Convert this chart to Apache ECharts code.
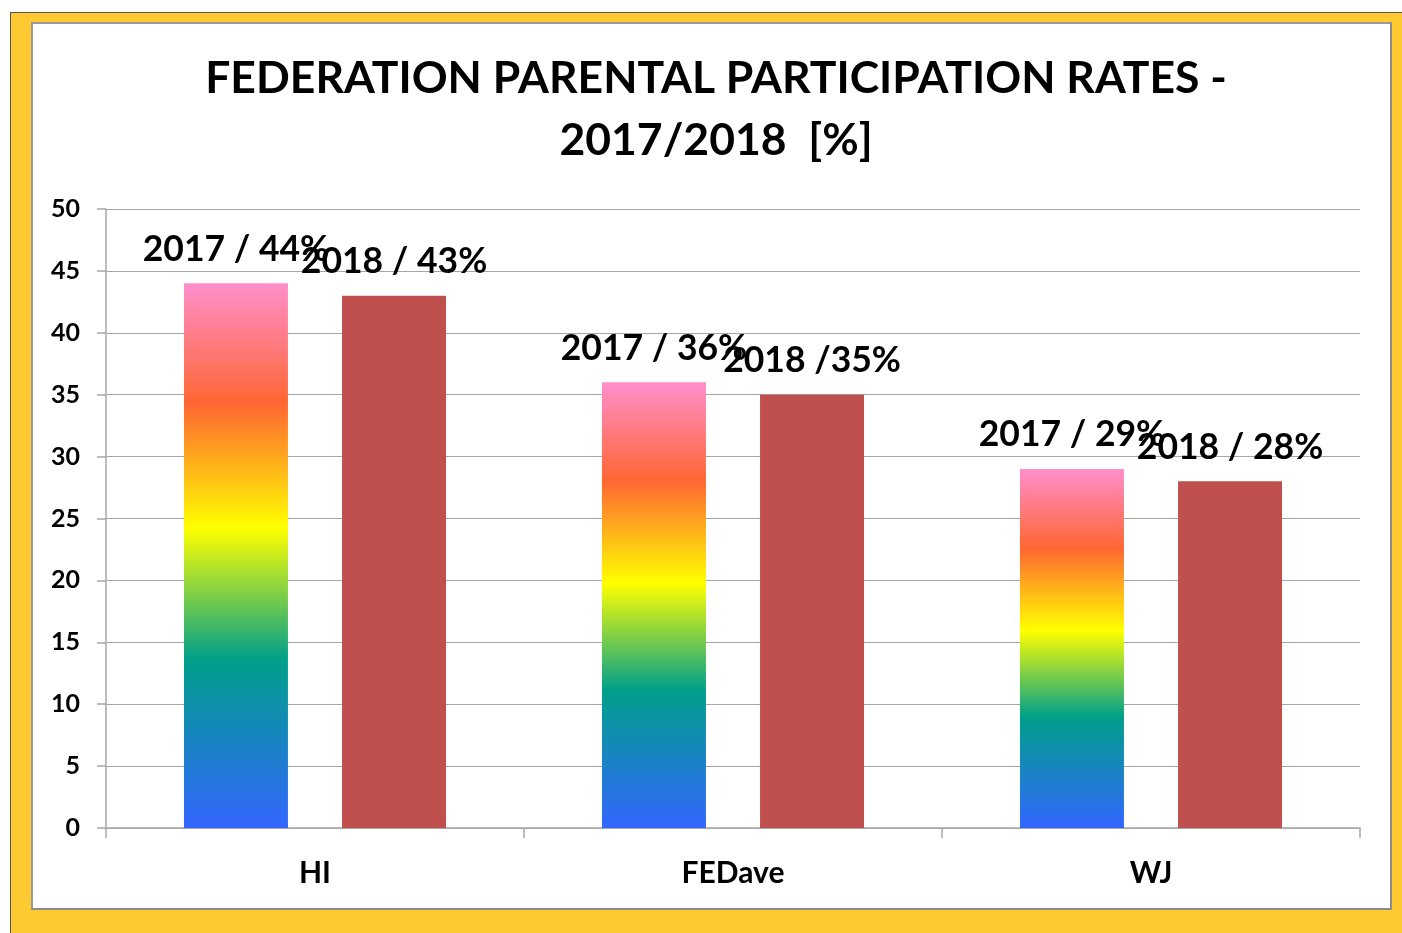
<!DOCTYPE html>
<html><head><meta charset="utf-8">
<script src="https://cdn.jsdelivr.net/npm/echarts@6/dist/echarts.min.js"></script>
<style>
html,body{margin:0;padding:0;background:#fff;width:1402px;height:933px;overflow:hidden;}
#frame{position:absolute;left:10px;top:12px;width:1392px;height:921px;background:#ffc931;border-left:1px solid #555;border-top:1px solid #555;box-sizing:border-box;}
#inner{position:absolute;left:31px;top:22px;width:1361px;height:888px;background:#fff;border:2px solid #8c8c8c;border-top-color:#999;border-left-color:#999;box-sizing:border-box;}
#chart{position:absolute;left:0;top:0;width:1402px;height:933px;}
</style></head>
<body>
<div id="frame"></div><div id="inner"></div>
<div id="chart"></div>
<script>
const categories = ['HI', 'FEDave', 'WJ'];
const values2017 = [44, 36, 29];
const values2018 = [43, 35, 28];
const labels2017 = ['2017 / 44%', '2017 / 36%', '2017 / 29%'];
const labels2018 = ['2018 / 43%', '2018 /35%', '2018 / 28%'];
const titleText = 'FEDERATION PARENTAL PARTICIPATION RATES -\n2017/2018  [%]';

const FONT = 'Lato, "Open Sans", sans-serif';
const chart = echarts.init(document.getElementById('chart'), null, {renderer: 'canvas'});
const rainbow = new echarts.graphic.LinearGradient(0, 1, 0, 0, [
  {offset: 0, color: '#3366ff'},
  {offset: 0.31, color: '#00a08a'},
  {offset: 0.55, color: '#ffff00'},
  {offset: 0.78, color: '#ff6633'},
  {offset: 1, color: '#ff8fcc'}
]);
const labelStyle = {
  show: true, position: 'top', distance: 16,
  fontFamily: FONT, fontWeight: 'bold', fontSize: 35.5, color: '#000'
};
chart.setOption({
  animation: false,
  backgroundColor: 'transparent',
  title: {
    text: titleText, left: 711, textAlign: 'center', top: 43,
    textStyle: {fontFamily: FONT, fontWeight: 'bold', fontSize: 44.5, lineHeight: 62, color: '#000'}
  },
  grid: {left: 106, right: 42, top: 209, bottom: 105, containLabel: false},
  xAxis: {
    type: 'category', data: categories,
    axisLine: {show: true, lineStyle: {color: '#a6a6a6', width: 1.5}},
    axisTick: {show: true, length: 10, lineStyle: {color: '#a6a6a6', width: 1.5}},
    axisLabel: {fontFamily: FONT, fontWeight: 'bold', fontSize: 30, color: '#000', margin: 30}
  },
  yAxis: {
    type: 'value', min: 0, max: 50, interval: 5,
    axisLine: {show: true, lineStyle: {color: '#a6a6a6', width: 1.5}},
    axisTick: {show: true, length: 9, lineStyle: {color: '#a6a6a6', width: 1.5}},
    splitLine: {show: true, lineStyle: {color: '#a6a6a6', width: 1.2}},
    axisLabel: {fontFamily: FONT, fontWeight: 'bold', fontSize: 25, color: '#000', margin: 26}
  },
  series: [
    {
      name: '2017', type: 'bar', barWidth: 104, barGap: '52%',
      itemStyle: {color: rainbow},
      label: Object.assign({}, labelStyle, {formatter: p => labels2017[p.dataIndex]}),
      data: values2017
    },
    {
      name: '2018', type: 'bar', barWidth: 104,
      itemStyle: {color: '#c0504d'},
      label: Object.assign({}, labelStyle, {formatter: p => labels2018[p.dataIndex]}),
      data: values2018
    }
  ]
});
</script>
</body></html>
